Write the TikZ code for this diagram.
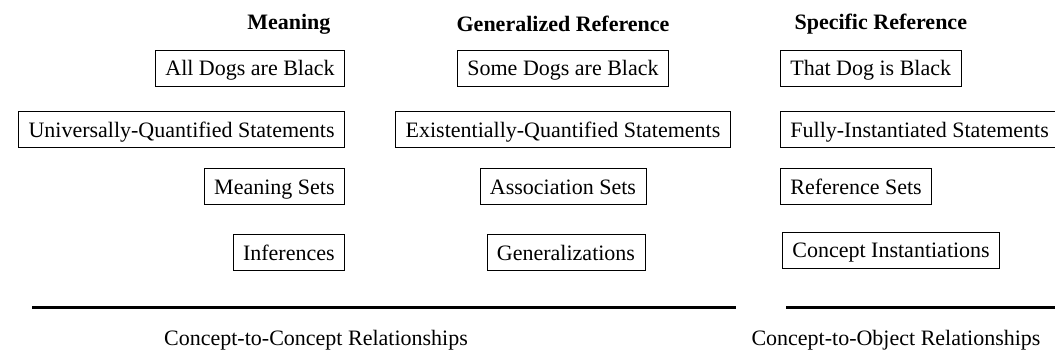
\documentclass[tikz,border=0pt]{standalone}
\usepackage{fontspec}
\setmainfont{Liberation Serif}
\begin{document}
\begin{tikzpicture}[x=1pt, y=-1pt,
    every node/.style={font=\fontsize{22}{26}\selectfont},
    item/.style={draw, line width=0.8pt, inner xsep=10pt, inner ysep=0pt,
        text height=19.5pt, text depth=3.5pt, minimum height=36pt},
    header/.style={font=\fontsize{22}{26}\selectfont\bfseries},
    divider/.style={line width=3pt}]
    \useasboundingbox (0,0) rectangle (1055,352);

    % Column headers
    \node [header, anchor=east] (hMeaning) at (334, 24) {Meaning};
    \node [header] (hGeneral) at (563, 24) {Generalized Reference};
    \node [header, anchor=west] (hSpecific) at (791, 24) {Specific Reference};

    % Meaning column
    \node [item, anchor=east] (allDogs) at (345, 68) {All Dogs are Black};
    \node [item, anchor=east] (univ) at (345, 129.5) {Universally-Quantified Statements};
    \node [item, anchor=east] (meanSets) at (345, 186.5) {Meaning Sets};
    \node [item, anchor=east] (infer) at (345, 252.5) {Inferences};

    % Generalized reference column
    \node [item] (someDogs) at (563, 68) {Some Dogs are Black};
    \node [item] (exist) at (563, 129.5) {Existentially-Quantified Statements};
    \node [item] (assocSets) at (563, 186.5) {Association Sets};
    \node [item] (general) at (566, 252.5) {Generalizations};

    % Specific reference column
    \node [item, anchor=west] (thatDog) at (780, 68) {That Dog is Black};
    \node [item, anchor=west] (fully) at (780, 129.5) {Fully-Instantiated Statements};
    \node [item, anchor=west] (refSets) at (780, 186.5) {Reference Sets};
    \node [item, anchor=west] (instant) at (782, 250) {Concept Instantiations};

    % Dividers
    \coordinate (ccLeft) at (32, 308);
    \coordinate (ccRight) at (736, 308);
    \coordinate (coLeft) at (786, 308);
    \coordinate (coRight) at (1055, 308);
    \draw [divider] (ccLeft) -- (ccRight);
    \draw [divider] (coLeft) -- (coRight);

    % Relationship labels
    \node (ccLabel) at (316, 340) {Concept-to-Concept Relationships};
    \node (coLabel) at (896, 340) {Concept-to-Object Relationships};
\end{tikzpicture}
\end{document}
